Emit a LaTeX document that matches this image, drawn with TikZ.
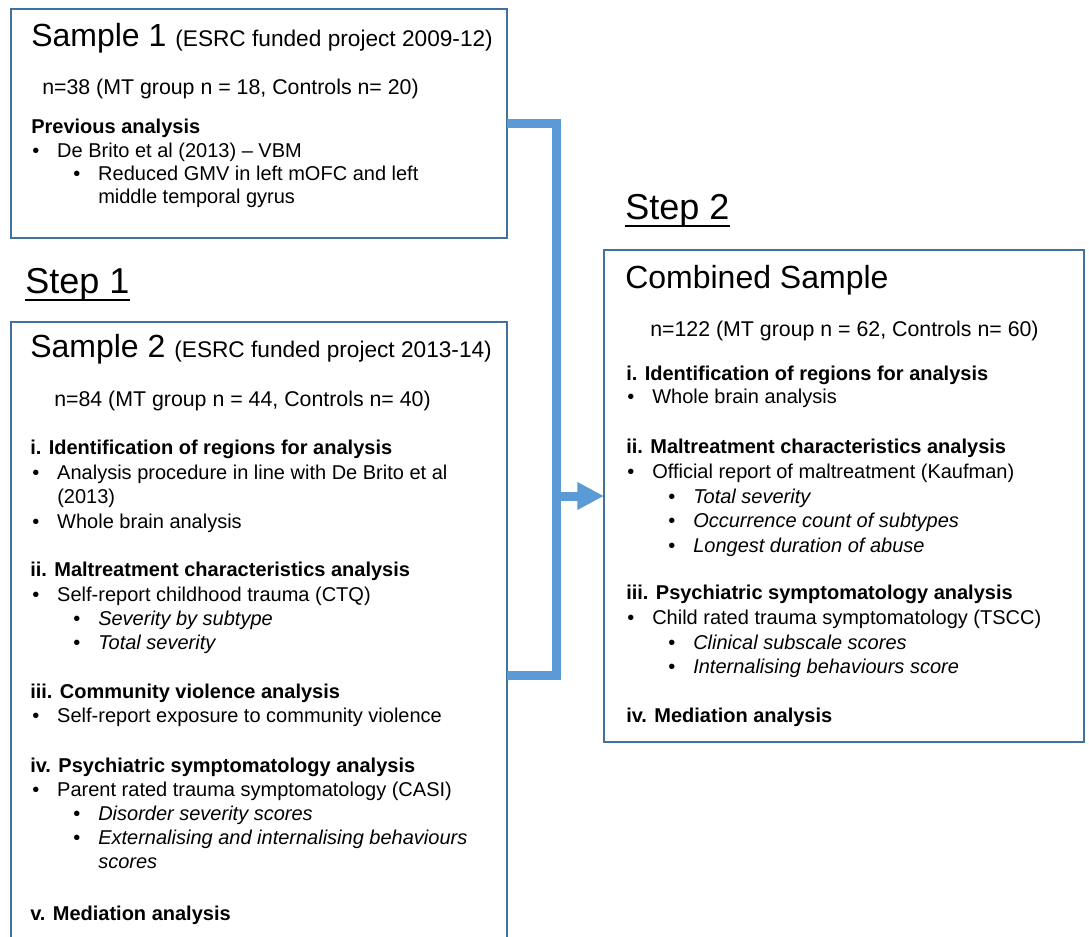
\documentclass[tikz,border=0pt]{standalone}
\usepackage{fontspec}
\setmainfont{Liberation Sans}
\usetikzlibrary{arrows.meta}

\definecolor{boxline}{HTML}{41719C}
\definecolor{linkblue}{HTML}{5B9BD5}

\begin{document}
\begin{tikzpicture}[x=0.75pt, y=-0.75pt,
    box/.style={draw=boxline, line width=1.3pt, inner sep=0pt, outer sep=0pt},
    link/.style={draw=linkblue, line width=6.75pt, line join=miter},
    txt/.style={inner sep=0pt, anchor=base west, font=\fontsize{15}{18}\selectfont},
    hd/.style={txt, font=\bfseries\fontsize{15}{18}\selectfont},
    itm/.style={txt, execute at begin node={\llap{\makebox[18.75pt][l]{•}}}},
    subtxt/.style={txt, font=\itshape\fontsize{15}{18}\selectfont},
    sub/.style={subtxt, execute at begin node={\llap{\makebox[18.75pt][l]{\upshape•}}}},
    nline/.style={txt, font=\fontsize{16}{19}\selectfont},
    title/.style={txt, font=\fontsize{24}{28}\selectfont},
    steplbl/.style={txt, font=\fontsize{27}{32}\selectfont},
    uline/.style={line width=1.4pt}]

    \useasboundingbox (0,0) rectangle (1089,936);
    \clip (0,0) rectangle (1089,936);

    % Boxes
    \node[box, minimum width=372pt, minimum height=171.75pt] (s1) at (259,123.5) {};
    \node[box, minimum width=372pt, minimum height=529.5pt] (s2) at (259,675) {};
    \node[box, minimum width=360pt, minimum height=369pt] (comb) at (844,496) {};

    % Step labels
    \node[steplbl] (st1) at (25,293) {Step 1};
    \draw[uline] ([yshift=-5.25pt]st1.base west) -- ([yshift=-5.25pt]st1.base east);
    \node[steplbl] (st2) at (625,219) {Step 2};
    \draw[uline] ([yshift=-5.25pt]st2.base west) -- ([yshift=-5.25pt]st2.base east);

    % Sample 1
    \node[title] (s1title) at (31,46) {Sample 1 {\fontsize{17}{20}\selectfont (ESRC funded project 2009-12)}};
    \node[nline] (s1n) at (42,94) {n=38 (MT group n = 18, Controls n= 20)};
    \node[hd] (s1prev) at (31,133) {Previous analysis};
    \node[itm] (s1a) at (57,157) {De Brito et al (2013) – VBM};
    \node[itm] (s1b) at (98,180) {Reduced GMV in left mOFC and left};
    \node[txt] (s1c) at (98,203) {middle temporal gyrus};

    % Sample 2
    \node[title] (s2title) at (30,357) {Sample 2 {\fontsize{17}{20}\selectfont (ESRC funded project 2013-14)}};
    \node[nline] (s2n) at (54,406) {n=84 (MT group n = 44, Controls n= 40)};
    \node[hd] (s2h1) at (30,454) {i. Identification of regions for analysis};
    \node[itm] (s2h1a) at (57,479) {Analysis procedure in line with De Brito et al};
    \node[txt] (s2h1b) at (57,503) {(2013)};
    \node[itm] (s2h1c) at (57,528) {Whole brain analysis};
    \node[hd] (s2h2) at (30,576) {ii. Maltreatment characteristics analysis};
    \node[itm] (s2h2a) at (57,601) {Self-report childhood trauma (CTQ)};
    \node[sub] (s2h2b) at (98,625) {Severity by subtype};
    \node[sub] (s2h2c) at (98,649) {Total severity};
    \node[hd] (s2h3) at (30,698) {iii. Community violence analysis};
    \node[itm] (s2h3a) at (57,722) {Self-report exposure to community violence};
    \node[hd] (s2h4) at (30,772) {iv. Psychiatric symptomatology analysis};
    \node[itm] (s2h4a) at (57,796) {Parent rated trauma symptomatology (CASI)};
    \node[sub] (s2h4b) at (98,820) {Disorder severity scores};
    \node[sub] (s2h4c) at (98,844) {Externalising and internalising behaviours};
    \node[subtxt] (s2h4d) at (98,868) {scores};
    \node[hd] (s2h5) at (30,920) {v. Mediation analysis};

    % Combined sample
    \node[title] (ctitle) at (625,288) {Combined Sample};
    \node[nline] (cn) at (650,336) {n=122 (MT group n = 62, Controls n= 60)};
    \node[hd] (ch1) at (626,380) {i. Identification of regions for analysis};
    \node[itm] (ch1a) at (652,403) {Whole brain analysis};
    \node[hd] (ch2) at (626,453) {ii. Maltreatment characteristics analysis};
    \node[itm] (ch2a) at (652,478) {Official report of maltreatment (Kaufman)};
    \node[sub] (ch2b) at (693,503) {Total severity};
    \node[sub] (ch2c) at (693,527) {Occurrence count of subtypes};
    \node[sub] (ch2d) at (693,552) {Longest duration of abuse};
    \node[hd] (ch3) at (626,599) {iii. Psychiatric symptomatology analysis};
    \node[itm] (ch3a) at (652,624) {Child rated trauma symptomatology (TSCC)};
    \node[sub] (ch3b) at (693,649) {Clinical subscale scores};
    \node[sub] (ch3c) at (693,673) {Internalising behaviours score};
    \node[hd] (ch4) at (626,722) {iv. Mediation analysis};

    % Connector
    \coordinate (spine) at (556,0);
    \draw[link] (s1.east) -- (s1.east -| spine) -- (s2.east -| spine) -- (s2.east);
    \draw[link, -{Triangle[length=20pt, width=19.5pt]}] (comb.west -| spine) -- (comb.west);
\end{tikzpicture}
\end{document}
